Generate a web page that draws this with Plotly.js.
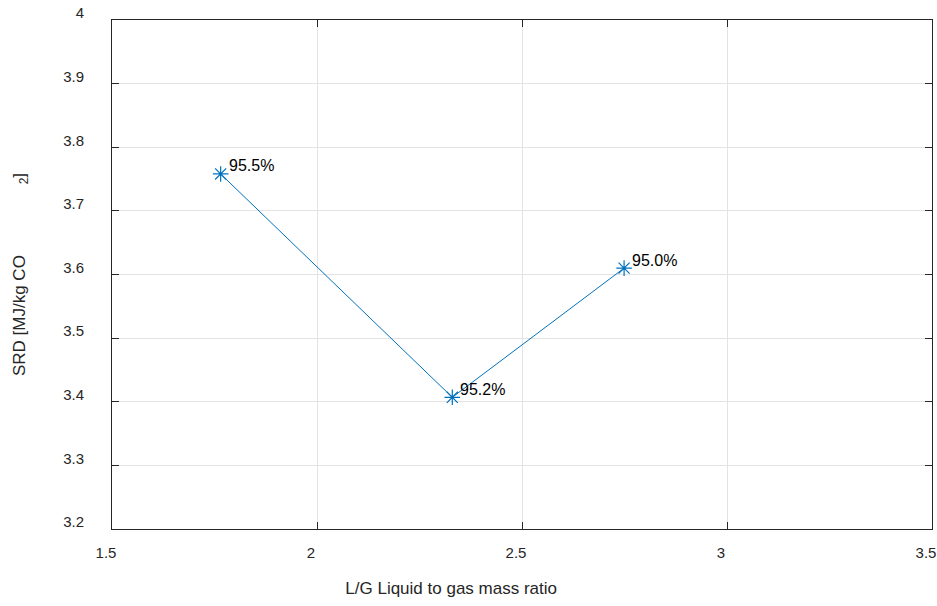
<!DOCTYPE html>
<html>
<head>
<meta charset="utf-8">
<script src="https://cdn.plot.ly/plotly-3.0.1.min.js"></script>
<style>
  html, body { margin: 0; padding: 0; background: #ffffff; }
  #chart { width: 937px; height: 606px; }
</style>
</head>
<body>
<div id="chart"></div>
<script>
// L/G ratio vs. specific reboiler duty, with capture rate at each point
const lgRatio = [1.765, 2.330, 2.749];
const srd = [3.758, 3.407, 3.610];
const captureLabels = ['95.5%', '95.2%', '95.0%'];
const xTicks = [1.5, 2, 2.5, 3, 3.5];
const yTicks = [3.2, 3.3, 3.4, 3.5, 3.6, 3.7, 3.8, 3.9, 4];

const lineColor = '#0072bd';
const axisColor = '#262626';
const fontFamily = '"Liberation Sans", Arial, Helvetica, sans-serif';

const nb = n => '&nbsp;'.repeat(n);

const trace = {
  x: lgRatio,
  y: srd,
  type: 'scatter',
  mode: 'lines+markers',
  line: { color: lineColor, width: 1 },
  marker: { symbol: 'asterisk-open', size: 13, color: lineColor, line: { color: lineColor, width: 1.2 } },
  hoverinfo: 'skip'
};

const annotations = lgRatio.map((x, i) => ({
  x: x,
  y: srd[i],
  xref: 'x',
  yref: 'y',
  text: captureLabels[i],
  showarrow: false,
  xanchor: 'left',
  yanchor: 'middle',
  xshift: 6,
  yshift: 8,
  font: { family: fontFamily, size: 16, color: '#000000' }
}));

const axisCommon = {
  showline: true,
  linecolor: axisColor,
  linewidth: 1,
  mirror: 'ticks',
  ticks: 'inside',
  ticklen: 7,
  tickwidth: 1,
  tickcolor: axisColor,
  showgrid: true,
  gridcolor: '#e3e3e3',
  gridwidth: 1,
  zeroline: false,
  tickfont: { family: fontFamily, size: 15, color: '#262626' }
};

const layout = {
  width: 937,
  height: 606,
  margin: { l: 112, r: 5, t: 20, b: 77 },
  paper_bgcolor: '#ffffff',
  plot_bgcolor: '#ffffff',
  showlegend: false,
  xaxis: Object.assign({}, axisCommon, {
    range: [1.5, 3.5],
    tickvals: xTicks,
    ticktext: xTicks.map(String),
    ticklabelshift: -6,
    ticklabelstandoff: 10,
    title: { text: 'L/G Liquid to gas mass ratio' + nb(30), standoff: 22,
             font: { family: fontFamily, size: 17, color: '#262626' } }
  }),
  yaxis: Object.assign({}, axisCommon, {
    range: [3.2, 4],
    tickvals: yTicks,
    ticktext: yTicks.map(String),
    ticklabelshift: -7,
    ticklabelstandoff: 24,
    title: { text: 'SRD [MJ/kg CO' + nb(15) + '<sub>2</sub>]', standoff: 33,
             font: { family: fontFamily, size: 17, color: '#262626' } }
  }),
  annotations: annotations
};

Plotly.newPlot('chart', [trace], layout, { displayModeBar: false, staticPlot: true });
</script>
</body>
</html>
